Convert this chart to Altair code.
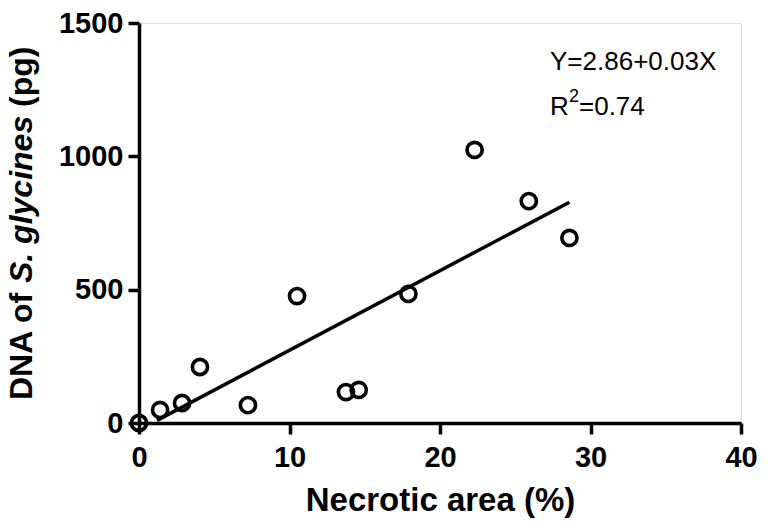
import altair as alt
import pandas as pd

# Data
necrotic = [0, 1.4, 2.86, 4.05, 7.24, 10.5, 13.75, 14.6, 17.9, 22.3, 25.9, 28.6]
dna = [0, 49, 75, 210, 67, 476, 116, 124, 484, 1024, 832, 694]
fit_x = [1.2, 28.6]
fit_y = [10, 828]
x_ticks = [0, 10, 20, 30, 40]
y_ticks = [0, 500, 1000, 1500]
eq_line1 = "Y=2.86+0.03X"
eq_r = "R"
eq_sup = "2"
eq_r2 = "=0.74"

FONT = "Liberation Sans"
W, H = 602, 400

pts = pd.DataFrame({"x": necrotic, "y": dna})
fit = pd.DataFrame({"x": fit_x, "y": fit_y})

xs = alt.Scale(domain=[0, 40], nice=False, zero=False)
ys = alt.Scale(domain=[0, 1500], nice=False, zero=False)

xaxis = alt.Axis(
    values=x_ticks, title="Necrotic area (%)", grid=False, format="d",
    domainColor="black", domainWidth=3.5, tickColor="black", tickWidth=3.5, tickSize=11,
    labelFont=FONT, labelFontSize=29, labelFontWeight="bold", labelColor="black",
    labelPadding=9, labelFlush=False,
    titleFont=FONT, titleFontSize=33, titleFontWeight="bold", titleColor="black",
    titlePadding=12,
)
yaxis = alt.Axis(
    values=y_ticks, title=None, grid=False, format="d",
    domainColor="black", domainWidth=3.5, tickColor="black", tickWidth=3.5, tickSize=11,
    labelFont=FONT, labelFontSize=29, labelFontWeight="bold", labelColor="black",
    labelPadding=5, labelFlush=False,
)

points = alt.Chart(pts).mark_point(
    shape="circle", filled=False, size=230, strokeWidth=3.6, color="black", opacity=1
).encode(
    x=alt.X("x:Q", scale=xs, axis=xaxis),
    y=alt.Y("y:Q", scale=ys, axis=yaxis),
)

line = alt.Chart(fit).mark_line(color="black", strokeWidth=3.5).encode(
    x=alt.X("x:Q", scale=xs),
    y=alt.Y("y:Q", scale=ys),
)


def txt(s, x, y, size, **kw):
    return alt.Chart(pd.DataFrame({"t": [s]})).mark_text(
        font=FONT, fontSize=size, color="black", baseline="alphabetic", **kw
    ).encode(x=alt.value(x), y=alt.value(y), text="t:N")


eq1 = txt(eq_line1, 411, 47, 26, align="left")
eqR = txt(eq_r, 411, 92, 26, align="left")
eqS = txt(eq_sup, 430, 79, 18, align="left")
eqV = txt(eq_r2, 440, 92, 26, align="left")

ytitle_x = -107
t1 = txt("DNA of ", ytitle_x, 377, 32, fontWeight="bold", angle=270, align="left")
t2 = txt("S. glycines", ytitle_x, 260, 32, fontWeight="bold", fontStyle="italic",
         angle=270, align="left")
t3 = txt("(pg)", ytitle_x, 84, 32, fontWeight="bold", angle=270, align="left")

chart = alt.layer(line, points, eq1, eqR, eqS, eqV, t1, t2, t3).properties(
    width=W, height=H,
    autosize=alt.AutoSizeParams(type="none"),
    padding={"left": 139, "top": 23, "right": 28, "bottom": 104},
).configure_view(stroke=None).configure(background="white")

chart.save("out.html", embed_options={"renderer": "svg", "actions": False})
